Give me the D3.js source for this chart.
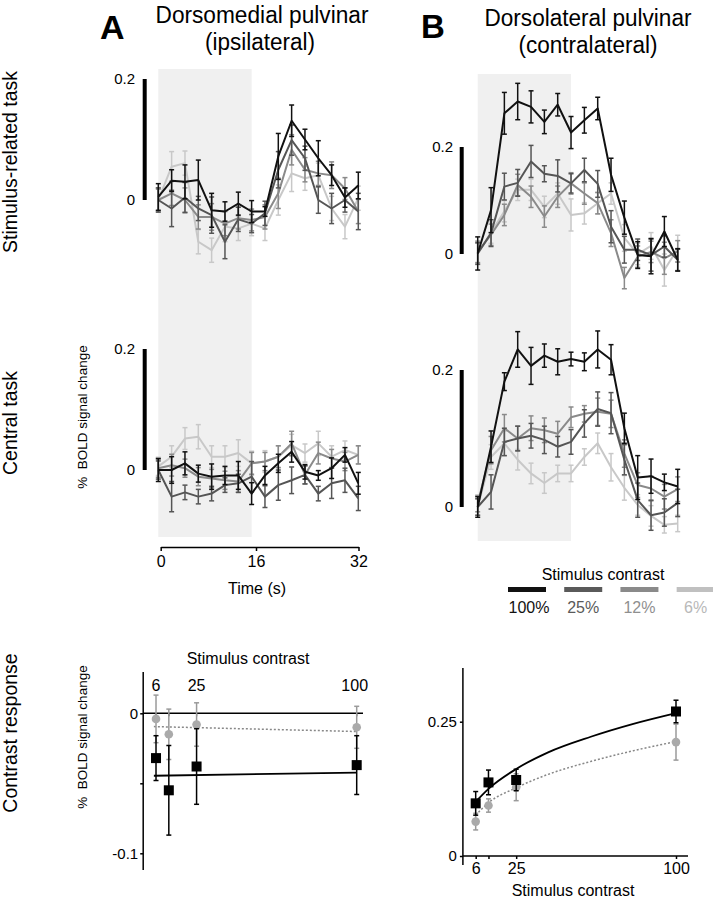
<!DOCTYPE html>
<html><head><meta charset="utf-8">
<script src="https://cdnjs.cloudflare.com/ajax/libs/d3/7.8.5/d3.min.js"></script>
<style>body{margin:0;background:#fff} svg{display:block} text{font-family:"Liberation Sans",Arial,Helvetica,sans-serif}</style>
</head><body><svg id="c" width="713" height="900"></svg>
<script>
// ---------- DATA ----------
const contrastLabels = ["100%", "25%", "12%", "6%"];
const times = [0, 2, 4, 6, 8, 10, 12, 14, 16, 18, 20, 22, 24, 26, 28, 30];
const timeTicks = [0, 16, 32];
const stimulusBlock = [0, 14];

// A: Dorsomedial pulvinar, stimulus-related task (100, 25, 12, 6 %)
const aStim100 = [0.005, 0.032, 0.030, 0.033, -0.017, -0.019, -0.006, -0.019, -0.019, 0.072, 0.131, 0.100, 0.069, 0.041, 0.004, 0.024];
const aStim100Err = [0.022, 0.018, 0.028, 0.033, 0.028, 0.016, 0.019, 0.018, 0.008, 0.038, 0.026, 0.017, 0.029, 0.017, 0.016, 0.022];
const aStim25 = [0.000, -0.014, 0.004, -0.014, -0.025, -0.069, -0.032, -0.039, -0.022, 0.050, 0.099, 0.069, 0.000, -0.014, 0.000, -0.019];
const aStim25Err = [0.020, 0.030, 0.025, 0.020, 0.030, 0.028, 0.020, 0.015, 0.020, 0.030, 0.025, 0.020, 0.022, 0.025, 0.020, 0.030];
const aStim12 = [0.000, 0.011, 0.000, -0.028, -0.028, -0.039, -0.030, -0.033, -0.028, 0.011, 0.083, 0.050, 0.044, 0.041, 0.019, -0.019];
const aStim12Err = [0.018, 0.020, 0.020, 0.020, 0.022, 0.020, 0.018, 0.018, 0.020, 0.025, 0.025, 0.020, 0.020, 0.022, 0.018, 0.020];
const aStim6 = [0.000, 0.055, 0.061, -0.069, -0.083, -0.044, -0.047, -0.039, -0.047, 0.000, 0.044, 0.036, 0.041, -0.014, -0.044, 0.003];
const aStim6Err = [0.020, 0.025, 0.020, 0.020, 0.020, 0.025, 0.020, 0.020, 0.020, 0.025, 0.030, 0.020, 0.020, 0.020, 0.020, 0.020];

// A: central task
const aCent100 = [0.000, 0.000, 0.011, -0.006, -0.011, -0.009, -0.009, -0.039, -0.009, 0.011, 0.030, -0.003, -0.009, 0.003, 0.025, -0.022];
const aCent100Err = [0.019, 0.022, 0.019, 0.014, 0.021, 0.015, 0.023, 0.018, 0.015, 0.015, 0.017, 0.012, 0.008, 0.017, 0.012, 0.018];
const aCent25 = [0.000, -0.044, -0.037, -0.044, -0.039, -0.025, -0.022, -0.011, -0.044, -0.025, -0.017, -0.008, -0.039, -0.022, -0.017, -0.047];
const aCent25Err = [0.015, 0.025, 0.012, 0.012, 0.012, 0.012, 0.015, 0.025, 0.018, 0.025, 0.022, 0.015, 0.012, 0.025, 0.020, 0.020];
const aCent12 = [0.003, 0.008, 0.003, -0.011, -0.014, -0.017, -0.019, 0.011, 0.014, 0.022, 0.044, -0.008, 0.028, 0.019, 0.014, 0.025];
const aCent12Err = [0.015, 0.018, 0.015, 0.015, 0.015, 0.015, 0.018, 0.018, 0.015, 0.018, 0.020, 0.015, 0.018, 0.015, 0.015, 0.015];
const aCent6 = [0.006, 0.022, 0.052, 0.055, 0.022, 0.022, 0.028, 0.011, 0.014, 0.022, 0.041, 0.028, 0.044, 0.022, 0.033, 0.025];
const aCent6Err = [0.015, 0.018, 0.018, 0.020, 0.018, 0.018, 0.022, 0.020, 0.018, 0.018, 0.018, 0.015, 0.020, 0.018, 0.015, 0.015];

// B: Dorsolateral pulvinar, stimulus-related task
const bStim100 = [0.001, 0.082, 0.263, 0.285, 0.275, 0.247, 0.279, 0.227, 0.250, 0.272, 0.148, 0.068, -0.002, -0.004, 0.042, -0.011];
const bStim100Err = [0.031, 0.042, 0.039, 0.034, 0.030, 0.022, 0.021, 0.030, 0.024, 0.021, 0.031, 0.031, 0.025, 0.033, 0.028, 0.021];
const bStim25 = [0.001, 0.039, 0.126, 0.133, 0.173, 0.150, 0.146, 0.132, 0.157, 0.131, 0.051, 0.008, 0.008, -0.002, 0.014, -0.011];
const bStim25Err = [0.020, 0.025, 0.025, 0.025, 0.030, 0.015, 0.030, 0.018, 0.022, 0.025, 0.030, 0.025, 0.020, 0.030, 0.020, 0.020];
const bStim12 = [0.004, 0.036, 0.073, 0.129, 0.107, 0.070, 0.107, 0.132, 0.113, 0.095, 0.039, -0.045, -0.005, 0.004, -0.008, 0.005];
const bStim12Err = [0.020, 0.020, 0.020, 0.020, 0.020, 0.020, 0.020, 0.020, 0.020, 0.020, 0.025, 0.020, 0.020, 0.020, 0.030, 0.020];
const bStim6 = [0.000, 0.040, 0.080, 0.120, 0.120, 0.088, 0.113, 0.073, 0.076, 0.095, 0.113, 0.030, 0.000, 0.015, -0.030, 0.010];
const bStim6Err = [0.020, 0.020, 0.020, 0.020, 0.020, 0.020, 0.020, 0.030, 0.020, 0.020, 0.020, 0.025, 0.020, 0.025, 0.030, 0.025];

// B: central task
const bCent100 = [0.000, 0.088, 0.183, 0.230, 0.206, 0.221, 0.212, 0.216, 0.212, 0.230, 0.215, 0.115, 0.043, 0.045, 0.036, 0.030];
const bCent100Err = [0.015, 0.023, 0.013, 0.026, 0.027, 0.017, 0.019, 0.010, 0.013, 0.027, 0.022, 0.022, 0.032, 0.025, 0.012, 0.025];
const bCent25 = [0.000, 0.022, 0.095, 0.100, 0.104, 0.098, 0.088, 0.095, 0.122, 0.143, 0.137, 0.069, 0.010, -0.012, -0.008, 0.006];
const bCent25Err = [0.012, 0.025, 0.020, 0.018, 0.018, 0.020, 0.015, 0.018, 0.020, 0.025, 0.030, 0.022, 0.025, 0.022, 0.020, 0.020];
const bCent12 = [0.005, 0.083, 0.115, 0.100, 0.115, 0.112, 0.107, 0.131, 0.136, 0.139, 0.136, 0.078, 0.032, 0.027, 0.015, 0.026];
const bCent12Err = [0.012, 0.020, 0.020, 0.018, 0.018, 0.018, 0.018, 0.015, 0.012, 0.020, 0.020, 0.020, 0.018, 0.018, 0.018, 0.018];
const bCent6 = [0.000, 0.073, 0.093, 0.069, 0.049, 0.035, 0.049, 0.049, 0.073, 0.093, 0.058, 0.028, 0.003, -0.013, -0.026, -0.024];
const bCent6Err = [0.012, 0.018, 0.018, 0.015, 0.015, 0.015, 0.012, 0.012, 0.012, 0.015, 0.020, 0.018, 0.015, 0.015, 0.012, 0.012];

// Contrast response
const contrastLevels = [6, 12, 25, 100];
const contrastTickLabels = ["6", "", "25", "100"];
const leftStim = [-0.032, -0.055, -0.038, -0.037];
const leftStimErr = [0.016, 0.032, 0.027, 0.021];
const leftCentral = [-0.004, -0.015, -0.008, -0.010];
const leftCentralErr = [0.017, 0.018, 0.0155, 0.015];
const leftFitContrasts = [5, 100];
const leftStimFit = [-0.0446, -0.0424];
const leftCentralFit = [-0.0095, -0.0130];
const rightStim = [0.098, 0.137, 0.1415, 0.269];
const rightStimErr = [0.022, 0.023, 0.020, 0.021];
const rightCentral = [0.064, 0.094, 0.128, 0.212];
const rightCentralErr = [0.0155, 0.0124, 0.025, 0.0335];
const rightFitContrasts = [6, 12, 25, 40, 60, 80, 100];
const rightStimFit = [0.101, 0.125, 0.162, 0.193, 0.222, 0.246, 0.266];
const rightCentralFit = [0.076, 0.099, 0.127, 0.152, 0.176, 0.196, 0.213];

// ---------- STYLE ----------
const lineColors = ["#111111", "#555555", "#8a8a8a", "#c8c8c8"];
const legendBarColors = ["#111111", "#5a5a5a", "#8a8a8a", "#c0c0c0"];
const legendTextColors = ["#111111", "#5a5a5a", "#8f8f8f", "#b8b8b8"];
const shadeColor = "#f0f0f0";

const svg = d3.select("#c");

// ---------- TIME COURSE PANELS ----------
const panels = [
  {xr: [158.3, 358.3], y0: 200, y2: 79, sbx: 142.7, lblx: 135,
   vals: [aStim100, aStim25, aStim12, aStim6], errs: [aStim100Err, aStim25Err, aStim12Err, aStim6Err]},
  {xr: [158.3, 358.3], y0: 470, y2: 349, sbx: 142.7, lblx: 135,
   vals: [aCent100, aCent25, aCent12, aCent6], errs: [aCent100Err, aCent25Err, aCent12Err, aCent6Err]},
  {xr: [477.7, 677.7], y0: 254, y2: 147, sbx: 459.7, lblx: 453,
   vals: [bStim100, bStim25, bStim12, bStim6], errs: [bStim100Err, bStim25Err, bStim12Err, bStim6Err]},
  {xr: [477.7, 677.7], y0: 507, y2: 370, sbx: 459.7, lblx: 453,
   vals: [bCent100, bCent25, bCent12, bCent6], errs: [bCent100Err, bCent25Err, bCent12Err, bCent6Err]}
];

// shaded stimulus blocks
const shadeA = d3.scaleLinear().domain([times[0], times[times.length - 1]]).range([158.3, 358.3]);
const shadeB = d3.scaleLinear().domain([times[0], times[times.length - 1]]).range([477.7, 677.7]);
svg.append("rect").attr("x", shadeA(stimulusBlock[0])).attr("y", 69)
  .attr("width", shadeA(stimulusBlock[1]) - shadeA(stimulusBlock[0])).attr("height", 468).attr("fill", shadeColor);
svg.append("rect").attr("x", shadeB(stimulusBlock[0])).attr("y", 74)
  .attr("width", shadeB(stimulusBlock[1]) - shadeB(stimulusBlock[0])).attr("height", 467).attr("fill", shadeColor);

panels.forEach(p => {
  const x = d3.scaleLinear().domain([times[0], times[times.length - 1]]).range(p.xr);
  const y = d3.scaleLinear().domain([0, 0.2]).range([p.y0, p.y2]);
  // scale bar
  svg.append("rect").attr("x", p.sbx).attr("y", y(0.2)).attr("width", 4)
    .attr("height", y(0) - y(0.2)).attr("fill", "#000");
  svg.append("text").attr("x", p.lblx).attr("y", y(0.2)).attr("dy", "0.35em")
    .attr("text-anchor", "end").attr("font-size", 15).text("0.2");
  svg.append("text").attr("x", p.lblx).attr("y", y(0)).attr("dy", "0.35em")
    .attr("text-anchor", "end").attr("font-size", 15).text("0");
  const line = d3.line().x((d, i) => x(times[i])).y(d => y(d));
  for (let s = 3; s >= 0; s--) {
    const g = svg.append("g");
    const col = lineColors[s];
    g.append("path").datum(p.vals[s]).attr("d", line).attr("fill", "none")
      .attr("stroke", col).attr("stroke-width", 2).attr("stroke-linejoin", "round");
    p.vals[s].forEach((v, i) => {
      const e = p.errs[s][i], xx = x(times[i]);
      g.append("line").attr("x1", xx).attr("x2", xx).attr("y1", y(v - e)).attr("y2", y(v + e))
        .attr("stroke", col).attr("stroke-width", 1.5);
      [v - e, v + e].forEach(w => g.append("line").attr("x1", xx - 2.5).attr("x2", xx + 2.5)
        .attr("y1", y(w)).attr("y2", y(w)).attr("stroke", col).attr("stroke-width", 1.5));
    });
  }
});

// time axis (panel A)
const tAxis = d3.scaleLinear().domain(timeTicks).range([160.7, 256, 358.5]);
const ta = svg.append("g").attr("transform", "translate(0,547)")
  .call(d3.axisBottom(tAxis).tickValues(timeTicks).tickSize(4).tickSizeOuter(0).tickPadding(5));
ta.selectAll("path,line").attr("stroke", "#000").attr("stroke-width", 1.5);
ta.selectAll("text").attr("font-size", 16).attr("font-family", "Liberation Sans, Arial");
svg.append("text").attr("x", 257).attr("y", 594).attr("text-anchor", "middle").attr("font-size", 16).text("Time (s)");

// titles
svg.append("text").attr("x", 100).attr("y", 39).attr("font-size", 34).attr("font-weight", "bold").text("A");
svg.append("text").attr("x", 421).attr("y", 38).attr("font-size", 33).attr("font-weight", "bold").text("B");
[["Dorsomedial pulvinar", 262, 23, 213], ["(ipsilateral)", 260, 50, 110],
 ["Dorsolateral pulvinar", 588, 26, 207], ["(contralateral)", 588, 53, 139]].forEach(([t, cx, by, w]) =>
  svg.append("text").attr("x", cx - w / 2).attr("y", by).attr("font-size", 23.5)
    .attr("textLength", w).attr("lengthAdjust", "spacingAndGlyphs").text(t));

// row labels
[["Stimulus-related task", 162], ["Central task", 423], ["Contrast response", 733]].forEach(([t, cy]) =>
  svg.append("text").attr("transform", `translate(17,${cy}) rotate(-90)`).attr("text-anchor", "middle")
    .attr("font-size", 19.5).text(t));
[417, 737].forEach(cy =>
  svg.append("text").attr("transform", `translate(87,${cy}) rotate(-90)`).attr("text-anchor", "middle")
    .attr("font-size", 13.5).attr("xml:space", "preserve").text("%  BOLD signal change"));

// legend
svg.append("text").attr("x", 603).attr("y", 580).attr("text-anchor", "middle").attr("font-size", 16).text("Stimulus contrast");
const legX = d3.scaleBand().domain(contrastLabels).range([505, 713]).paddingInner(0.3).paddingOuter(0);
contrastLabels.forEach((c, i) => {
  svg.append("rect").attr("x", legX(c) + 3).attr("y", 587).attr("width", 38).attr("height", 5).attr("fill", legendBarColors[i]);
  svg.append("text").attr("x", legX(c) + 3 + 19 + (i === 0 ? 2 : 0)).attr("y", 613).attr("text-anchor", "middle")
    .attr("font-size", 16).attr("fill", legendTextColors[i]).text(c);
});

// ---------- CONTRAST RESPONSE ----------
function drawMarkers(x, y, vals, errs, kind) {
  const col = kind === "sq" ? "#000" : "#9a9a9a";
  vals.forEach((v, i) => {
    const xx = x(contrastLevels[i]), e = errs[i];
    svg.append("line").attr("x1", xx).attr("x2", xx).attr("y1", y(v - e)).attr("y2", y(v + e))
      .attr("stroke", col).attr("stroke-width", 1.5);
    [v - e, v + e].forEach(w => svg.append("line").attr("x1", xx - 2.5).attr("x2", xx + 2.5)
      .attr("y1", y(w)).attr("y2", y(w)).attr("stroke", col).attr("stroke-width", 1.5));
  });
  vals.forEach((v, i) => {
    const xx = x(contrastLevels[i]);
    if (kind === "sq") svg.append("rect").attr("x", xx - 5).attr("y", y(v) - 5).attr("width", 10).attr("height", 10).attr("fill", "#000");
    else svg.append("circle").attr("cx", xx).attr("cy", y(v)).attr("r", 4.3).attr("fill", "#aaaaaa");
  });
}

// left panel
const xL = d3.scaleLinear().domain([0, 100]).range([143.2, 356.7]);
const yL = d3.scaleLinear().domain([0, -0.1]).range([713.3, 853.3]);
svg.append("line").attr("x1", xL(0)).attr("x2", xL(0)).attr("y1", 672).attr("y2", 870).attr("stroke", "#000").attr("stroke-width", 1.5);
const yla = svg.append("g").attr("transform", `translate(${xL(0)},0)`)
  .call(d3.axisLeft(yL).tickValues([0, -0.05, -0.1]).tickSize(3).tickPadding(2)
    .tickFormat(d => d === -0.05 ? "" : (d === 0 ? "0" : "-0.1")));
yla.select(".domain").remove();
yla.selectAll("line").attr("stroke", "#000").attr("stroke-width", 1.5);
yla.selectAll("text").attr("font-size", 15).attr("font-family", "Liberation Sans, Arial");
svg.append("line").attr("x1", xL(0)).attr("x2", 363).attr("y1", yL(0)).attr("y2", yL(0)).attr("stroke", "#000").attr("stroke-width", 1.5);
contrastLevels.forEach((c, i) => {
  svg.append("line").attr("x1", xL(c)).attr("x2", xL(c)).attr("y1", yL(0)).attr("y2", yL(0) + 3).attr("stroke", "#000").attr("stroke-width", 1.2);
  svg.append("text").attr("x", xL(c) + (i === 3 ? -2 : 0)).attr("y", 691).attr("text-anchor", "middle").attr("font-size", 16).text(contrastTickLabels[i]);
});
svg.append("text").attr("x", 248).attr("y", 664).attr("text-anchor", "middle").attr("font-size", 16).text("Stimulus contrast");
const lineL = d3.line().x((d, i) => xL(leftFitContrasts[i])).y(d => yL(d));
svg.append("path").datum(leftCentralFit).attr("d", lineL).attr("fill", "none").attr("stroke", "#888").attr("stroke-width", 1.5).attr("stroke-dasharray", "2,2");
svg.append("path").datum(leftStimFit).attr("d", lineL).attr("fill", "none").attr("stroke", "#000").attr("stroke-width", 1.8);
drawMarkers(xL, yL, leftCentral, leftCentralErr, "circle");
drawMarkers(xL, yL, leftStim, leftStimErr, "sq");

// right panel
const xR = d3.scaleLinear().domain([0, 100]).range([462.9, 676]);
const yR = d3.scaleLinear().domain([0, 0.25]).range([856, 721.7]);
svg.append("line").attr("x1", xR(0)).attr("x2", xR(0)).attr("y1", 668).attr("y2", 865).attr("stroke", "#000").attr("stroke-width", 1.5);
svg.append("line").attr("x1", xR(0)).attr("x2", 688).attr("y1", yR(0)).attr("y2", yR(0)).attr("stroke", "#000").attr("stroke-width", 1.5);
const yra = svg.append("g").attr("transform", `translate(${xR(0)},0)`)
  .call(d3.axisLeft(yR).tickValues([0, 0.25]).tickSize(3).tickPadding(3).tickFormat(d => d === 0 ? "0" : "0.25"));
yra.select(".domain").remove();
yra.selectAll("line").attr("stroke", "#000").attr("stroke-width", 1.5);
yra.selectAll("text").attr("font-size", 15).attr("font-family", "Liberation Sans, Arial");
const xra = svg.append("g").attr("transform", `translate(0,${yR(0)})`)
  .call(d3.axisBottom(xR).tickValues(contrastLevels).tickSize(3).tickPadding(4).tickFormat((d, i) => contrastTickLabels[i]));
xra.select(".domain").remove();
xra.selectAll("line").attr("stroke", "#000").attr("stroke-width", 1.5);
xra.selectAll("text").attr("font-size", 16).attr("font-family", "Liberation Sans, Arial");
svg.append("text").attr("x", 573).attr("y", 896).attr("text-anchor", "middle").attr("font-size", 16).text("Stimulus contrast");
const lineR = d3.line().x((d, i) => xR(rightFitContrasts[i])).y(d => yR(d)).curve(d3.curveMonotoneX);
svg.append("path").datum(rightCentralFit).attr("d", lineR).attr("fill", "none").attr("stroke", "#888").attr("stroke-width", 1.5).attr("stroke-dasharray", "2,2");
svg.append("path").datum(rightStimFit).attr("d", lineR).attr("fill", "none").attr("stroke", "#000").attr("stroke-width", 1.8);
drawMarkers(xR, yR, rightCentral, rightCentralErr, "circle");
drawMarkers(xR, yR, rightStim, rightStimErr, "sq");
</script></body></html>
